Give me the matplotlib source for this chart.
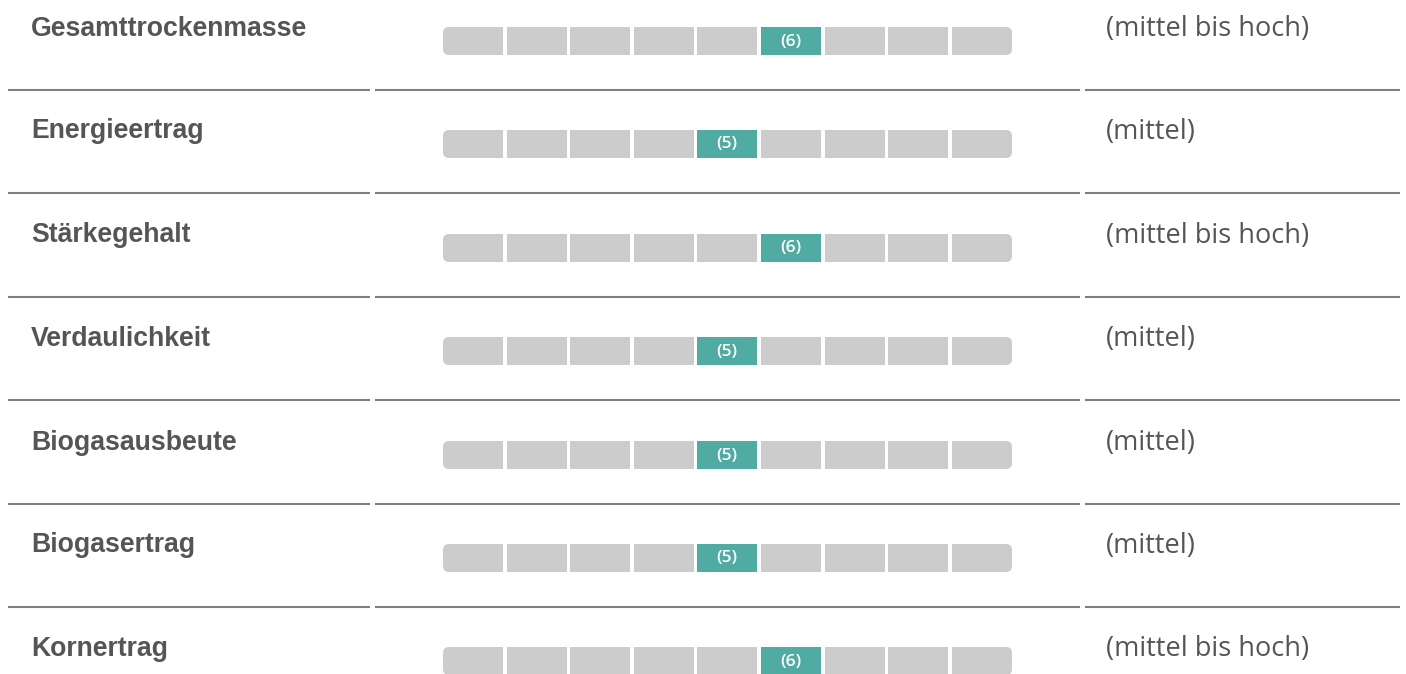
import matplotlib.pyplot as plt
from matplotlib.patches import FancyBboxPatch, Rectangle

# data
criteria = ["Gesamttrockenmasse", "Energieertrag", "Stärkegehalt", "Verdaulichkeit",
            "Biogasausbeute", "Biogasertrag", "Kornertrag"]
scores = [6, 5, 6, 5, 5, 5, 6]
ratings = ["(mittel bis hoch)", "(mittel)", "(mittel bis hoch)", "(mittel)",
           "(mittel)", "(mittel)", "(mittel bis hoch)"]
n_steps = 9

W, H = 1406, 674
fig = plt.figure(figsize=(W / 100, H / 100), dpi=100)
ax = fig.add_axes([0, 0, 1, 1])
ax.set_xlim(0, W)
ax.set_ylim(H, 0)
ax.axis('off')

grey = '#cccccc'
teal = '#50aca2'
txt = '#555555'

row_h = 103.4
bar_x0 = 443
seg_w, gap = 60, 3.6
bar_h = 28
rad = 6

for i, (name, val, rating) in enumerate(zip(criteria, scores, ratings)):
    top = round(27 + i * row_h)
    ax.text(31, top + 8.5, name, fontsize=19.2, fontweight='bold', color=txt,
            family='Liberation Sans', va='baseline', ha='left')
    ax.text(1106, top + 8.8, rating, fontsize=19.5, color=txt,
            family='Open Sans', va='baseline', ha='left')

    for k in range(n_steps):
        x = round(bar_x0 + k * (seg_w + gap))
        col = teal if k + 1 == val else grey
        if k == 0 or k == n_steps - 1:
            ax.add_patch(FancyBboxPatch((x, top), seg_w, bar_h,
                                        boxstyle=f"round,pad=0,rounding_size={rad}",
                                        fc=col, ec='none', antialiased=True))
            sx = x + seg_w / 2 if k == 0 else x
            ax.add_patch(Rectangle((sx, top), seg_w / 2, bar_h, fc=col, ec='none',
                                   antialiased=False))
        else:
            ax.add_patch(Rectangle((x, top), seg_w, bar_h, fc=col, ec='none',
                                   antialiased=False))
        if k + 1 == val:
            ax.text(x + seg_w / 2, top + bar_h / 2 + 0.5, f"({val})", fontsize=12.5,
                    fontweight='semibold', color='white',
                    family='Open Sans', ha='center', va='center')

    if i < len(criteria) - 1:
        y = top + 62.5
        for a, b in [(8, 370), (375, 1080), (1085, 1400)]:
            ax.plot([a, b], [y, y], color='#7f7f7f', lw=1.5, solid_capstyle='butt')

fig.savefig('out.png', dpi=100)
